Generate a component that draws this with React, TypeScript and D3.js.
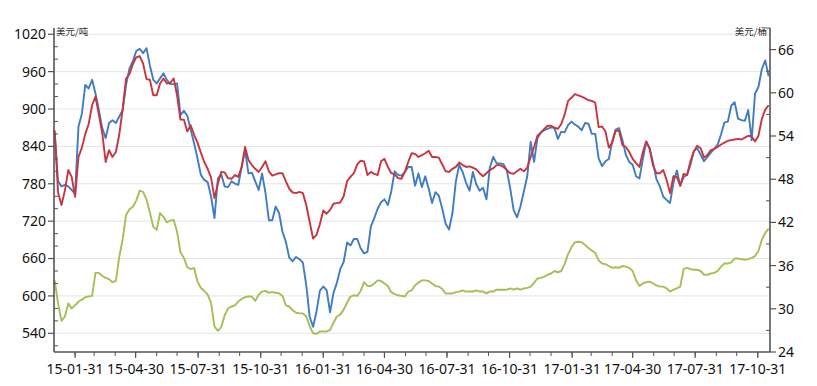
import React from "react";
import * as d3 from "d3";

// ---- data ----
const START_DATE = "2015-01-01";
const STEP_DAYS = 5;

// Blue series, right axis (美元/桶)
const blueSeries = [
  54.4,47.7,47.0,47.2,47.0,46.5,46.0,55.3,57.1,61.1,60.6,61.8,59.9,57.6,55.1,53.7,55.8,56.2,55.8,56.7,57.6,61.1,63.4,64.4,65.8,66.1,65.5,66.2,63.8,61.8,61.3,62.0,62.7,61.8,61.2,61.2,
  61.3,56.9,57.5,56.8,54.9,53.0,50.9,48.6,47.9,47.6,45.6,42.6,48.1,48.7,47.0,46.9,47.7,47.4,47.2,49.7,52.0,48.8,48.9,47.7,46.5,48.8,46.1,42.3,42.3,44.2,43.3,40.7,39.3,37.1,36.6,
  37.2,36.9,36.4,33.3,28.9,27.5,29.6,32.5,33.1,32.6,29.5,32.2,33.6,35.5,36.5,39.2,38.8,39.7,39.7,38.4,37.7,37.9,41.4,42.6,43.9,44.8,45.2,44.4,46.3,49.1,48.6,48.5,49.0,49.7,49.7,
  47.1,48.8,46.9,48.4,46.7,44.7,46.2,45.7,43.9,41.8,41.0,43.3,47.7,50.0,49.0,47.5,46.4,49.0,47.3,46.4,46.8,45.2,49.6,51.1,50.2,50.2,50.1,49.2,46.7,43.7,42.7,44.2,46.3,48.4,53.2,
  50.4,53.7,54.5,54.8,55.0,55.2,55.1,53.6,54.6,54.5,55.5,56.0,55.6,55.3,54.8,55.8,55.7,54.3,54.3,50.9,49.8,50.5,50.8,53.3,54.9,55.1,53.4,51.4,50.4,50.0,48.4,48.1,50.8,53.2,52.3,50.3,
  48.0,47.0,45.6,45.1,44.7,47.5,49.2,47.1,48.3,48.6,50.0,51.9,52.3,51.4,50.5,51.1,51.7,52.2,52.8,54.2,55.9,56.0,58.2,58.7,56.4,56.2,56.1,57.6,53.4,59.9,60.8,63.3,64.5,62.3,
];

// Red series, left axis (美元/吨)
const redSeries = [
  866,766,746,769,802,791,759,823,838,860,876,906,920,891,861,815,834,823,831,859,900,949,956,972,983,985,973,948,947,922,922,941,949,941,942,949,
  922,883,883,864,874,859,846,830,815,804,790,757,780,799,798,789,788,794,791,807,839,818,810,804,799,807,816,800,793,795,797,797,784,772,766,
  765,767,765,746,719,692,698,715,737,732,738,748,749,750,760,784,791,797,811,817,816,794,799,796,794,816,820,807,797,795,789,788,799,815,829,
  828,823,826,829,833,823,823,822,811,800,799,804,807,814,810,807,808,806,803,797,792,797,802,805,810,810,807,802,797,796,800,804,800,806,823,
  839,857,862,868,873,873,870,868,876,891,913,918,924,922,920,917,914,913,910,871,872,864,838,846,865,865,842,839,831,820,813,807,831,848,836,809,
  797,797,802,786,765,792,791,777,796,794,816,832,841,837,822,826,834,836,839,843,846,849,850,851,852,851,854,857,856,848,857,884,899,906,
];

// Green series, left axis (美元/吨)
const greenSeries = [
  625,588,560,567,588,580,585,591,594,598,599,600,637,637,632,629,627,622,624,663,691,730,739,743,753,769,767,755,734,711,706,733,727,718,721,722,
  703,670,661,646,643,645,623,613,608,602,589,551,544,550,569,580,583,585,591,595,598,599,599,592,602,607,608,605,606,605,604,600,585,583,577,
  573,572,572,567,552,540,539,543,543,543,545,557,567,570,578,589,599,601,600,608,622,616,616,620,625,624,620,616,606,603,601,600,599,607,609,
  617,621,625,625,624,620,616,615,611,604,604,604,606,607,609,607,607,607,609,607,607,604,607,607,610,610,610,610,612,610,612,610,612,613,615,
  621,628,629,631,634,636,640,638,640,651,667,678,686,687,686,682,677,673,669,657,652,651,648,645,646,645,648,647,645,640,625,616,620,622,623,620,
  617,615,615,612,607,610,612,615,643,645,643,642,642,640,634,634,636,637,640,647,652,652,654,660,660,659,658,659,661,664,672,690,701,708,
];

const xTickLabels = [
  "15-01-31","15-04-30","15-07-31","15-10-31","16-01-31","16-04-30",
  "16-07-31","16-10-31","17-01-31","17-04-30","17-07-31","17-10-31",
];
const leftTicks = [540, 600, 660, 720, 780, 840, 900, 960, 1020];
const rightTicks = [24, 30, 36, 42, 48, 54, 60, 66];
const leftUnit = "美元/吨";
const rightUnit = "美元/桶";

// ---- layout ----
const W = 817, H = 386;
const L = 54, R = 770, T = 28, B = 352;
const FONT = "'Noto Sans', 'Liberation Sans', sans-serif";

export default function App() {
  const start = new Date(START_DATE + "T00:00:00Z");
  const dates = blueSeries.map((_, i) => d3.utcDay.offset(start, i * STEP_DAYS));

  const x = d3.scaleUtc()
    .domain([new Date("2014-12-31T00:00:00Z"), new Date("2017-11-18T00:00:00Z")])
    .range([L, R]);
  const yL = d3.scaleLinear().domain([510, 1030]).range([B, T]);
  const yR = d3.scaleLinear().domain([24, 69]).range([B, T]);

  const parseTick = (s: string) => new Date("20" + s + "T00:00:00Z");
  const majorDates = xTickLabels.map(parseTick);
  const minorDates = d3.utcMonth
    .range(new Date("2015-02-01T00:00:00Z"), new Date("2017-11-02T00:00:00Z"))
    .map((d) => d3.utcDay.offset(d, -1));

  const lineL = (vals: number[]) =>
    d3.line<number>().x((_, i) => x(dates[i])).y((v) => yL(v))(vals) || "";
  const lineR = (vals: number[]) =>
    d3.line<number>().x((_, i) => x(dates[i])).y((v) => yR(v))(vals) || "";

  const leftMinor = d3.range(520, 1030, 20).filter((v) => !leftTicks.includes(v));
  const rightMinor = d3.range(27, 70, 6);

  const axisColor = "#555";

  return (
    <div style={{ position: "absolute", left: 0, top: 0, width: W, height: H, background: "#fff" }}>
      <svg width={W} height={H} style={{ display: "block" }}>
        <rect x={0} y={0} width={W} height={H} fill="#fff" />
        {/* gridlines */}
        {leftTicks.map((v) => (
          <line key={"g" + v} x1={L} x2={R} y1={yL(v)} y2={yL(v)} stroke="#e4e4e4" strokeWidth={1} />
        ))}
        {/* series */}
        <path d={lineL(greenSeries)} fill="none" stroke="#a3bf55" strokeWidth={1.9} strokeLinejoin="round" />
        <path d={lineR(blueSeries)} fill="none" stroke="#3f7cc4" strokeWidth={1.9} strokeLinejoin="round" />
        <path d={lineL(redSeries)} fill="none" stroke="#c9343f" strokeWidth={1.9} strokeLinejoin="round" />

        {/* left axis */}
        <line x1={L} x2={L} y1={T} y2={B} stroke={axisColor} strokeWidth={1.6} />
        {leftTicks.map((v) => (
          <g key={"lt" + v}>
            <line x1={L - 6} x2={L} y1={yL(v)} y2={yL(v)} stroke={axisColor} strokeWidth={1.2} />
            <text x={L - 8} y={yL(v)} dy="0.35em" textAnchor="end" fontSize={14} fontFamily={FONT} fill="#111">
              {v}
            </text>
          </g>
        ))}
        {leftMinor.map((v) => (
          <line key={"lm" + v} x1={L} x2={L + 4} y1={yL(v)} y2={yL(v)} stroke={axisColor} strokeWidth={1} />
        ))}
        <text x={L + 2} y={T + 7} fontSize={9.5} fontFamily="'Noto Sans CJK SC', sans-serif" fill="#333">
          {leftUnit}
        </text>

        {/* right axis */}
        <line x1={R} x2={R} y1={T} y2={B} stroke={axisColor} strokeWidth={1.6} />
        {rightTicks.map((v) => (
          <g key={"rt" + v}>
            <line x1={R} x2={R + 6} y1={yR(v)} y2={yR(v)} stroke={axisColor} strokeWidth={1.2} />
            <text x={R + 8} y={yR(v)} dy="0.35em" textAnchor="start" fontSize={14} fontFamily={FONT} fill="#111">
              {v}
            </text>
          </g>
        ))}
        {rightMinor.map((v) => (
          <line key={"rm" + v} x1={R - 4} x2={R} y1={yR(v)} y2={yR(v)} stroke={axisColor} strokeWidth={1} />
        ))}
        <text x={R - 3} y={T + 7} textAnchor="end" fontSize={9.5} fontFamily="'Noto Sans CJK SC', sans-serif" fill="#333">
          {rightUnit}
        </text>

        {/* x axis */}
        <line x1={L} x2={R} y1={B} y2={B} stroke={axisColor} strokeWidth={1.6} />
        {minorDates.map((d, i) => (
          <line key={"xm" + i} x1={x(d)} x2={x(d)} y1={B} y2={B + 4} stroke={axisColor} strokeWidth={1} />
        ))}
        {majorDates.map((d, i) => (
          <g key={"xt" + i}>
            <line x1={x(d)} x2={x(d)} y1={B} y2={B + 6} stroke={axisColor} strokeWidth={1.2} />
            <text x={x(d)} y={B + 22} textAnchor="middle" fontSize={14} fontFamily={FONT} fill="#111">
              {xTickLabels[i]}
            </text>
          </g>
        ))}
      </svg>
    </div>
  );
}
